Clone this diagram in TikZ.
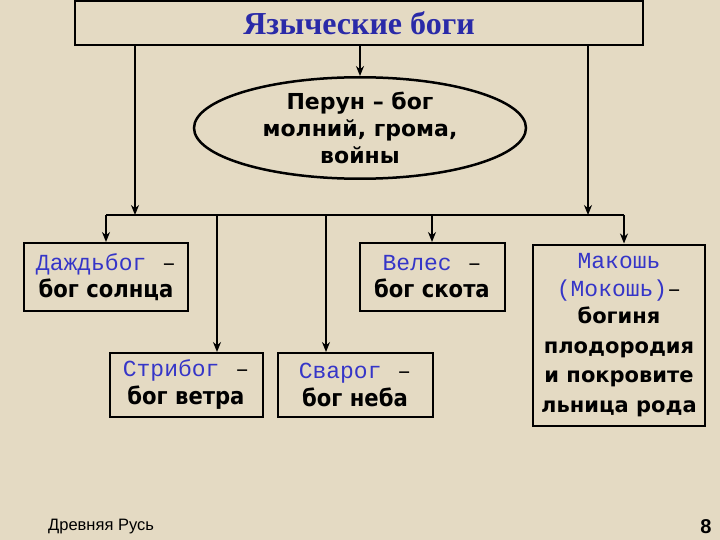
\documentclass[tikz,border=0pt]{standalone}
\usepackage{fontspec}
\setmainfont{Liberation Serif}
\newfontfamily\dvb{DejaVu Sans}
\newfontfamily\dvc{DejaVu Sans Condensed}
\newfontfamily\mono{Liberation Mono}
\newfontfamily\arial{Liberation Sans}
\usetikzlibrary{shapes.geometric,arrows.meta}
\definecolor{bg}{HTML}{E4DAC3}
\definecolor{godblue}{HTML}{3535C8}
\definecolor{titleblue}{HTML}{2A2AA8}
\newcommand{\gname}[1]{{\mono\fontsize{23}{30}\selectfont\textcolor{godblue}{#1}}}
\newcommand{\gdash}{{\mono\fontsize{23}{30}\selectfont\ \kern2pt–}}
\newcommand{\gdesc}[1]{{\dvc\bfseries\fontsize{23.5}{30}\selectfont #1}}
\newcommand{\mdesc}[1]{{\dvb\bfseries\fontsize{21}{29.5}\selectfont #1}}
\begin{document}
\begin{tikzpicture}[x=1pt,y=-1pt,
  ln/.style={line width=2.5pt,draw=black},
  arr/.style={ln,-{Stealth[length=10pt,width=8pt]}},
  godbox/.style={draw=black,line width=2pt,inner sep=0pt,align=center,font=\fontsize{23}{30}\selectfont}]
\fill[bg] (0,0) rectangle (720,540);
\useasboundingbox (0,0) rectangle (720,540);
% title
\node[draw=black,line width=2.5pt,minimum width=568pt,minimum height=44pt,inner sep=0pt,
  font=\bfseries\fontsize{32}{34}\selectfont,text=titleblue] (title) at (359,23) {Языческие боги};
% Perun
\node[draw=black,line width=2.5pt,ellipse,minimum width=332pt,minimum height=96pt,inner sep=0pt,
  align=center,font=\dvb\bfseries\fontsize{22}{27}\selectfont] (per) at (360,128)
  {Перун – бог\\молний, грома,\\войны};
% boxes
\node[godbox,minimum width=164pt,minimum height=68pt] (daz) at (106,277)
  {\raisebox{-3pt}{\gname{Даждьбог}\gdash}\\\gdesc{бог солнца}};
\node[godbox,minimum width=145pt,minimum height=68pt] (vel) at (432,277)
  {\raisebox{-3pt}{\gname{Велес}\gdash}\\\gdesc{бог скота}};
\node[godbox,minimum width=153pt,minimum height=64pt] (str) at (186,385)
  {\raisebox{-2pt}{\gname{Стрибог}\gdash}\\\gdesc{бог ветра}};
\node[godbox,minimum width=155pt,minimum height=64pt] (sva) at (355,385)
  {\raisebox{-2pt}{\gname{Сварог}\gdash}\\\gdesc{бог неба}};
\node[godbox,minimum width=172pt,minimum height=181pt,font=\fontsize{21}{29.5}\selectfont] (mak) at (619,335)
  {\raisebox{-4pt}{\gname{Макошь}}\\
   \raisebox{-2pt}{\gname{(Мокошь)}{\mono\fontsize{23}{30}\selectfont –}}\\
   \mdesc{богиня}\\
   \mdesc{плодородия}\\
   \mdesc{и покровите}\\
   \mdesc{льница рода}};
% coordinates
\coordinate (ta) at (135,215);
\coordinate (tb) at (588,215);
\coordinate (bl) at (106,215);
\coordinate (br) at (624,215);
\coordinate (bs) at (217,215);
\coordinate (bv) at (326,215);
\coordinate (be) at (432,215);
% connectors
\draw[arr] (title.south -| ta) -- (ta);
\draw[arr] (title.south -| tb) -- (tb);
\draw[arr] (title.south -| per.north) -- (per.north);
\draw[ln] (bl) -- (br);
\draw[arr] (bl) -- (daz.north);
\draw[arr] (bs) -- (bs |- str.north);
\draw[arr] (bv) -- (bv |- sva.north);
\draw[arr] (be) -- (vel.north);
\draw[arr] (br) -- (br |- mak.north);
% footer
\node[anchor=west,font=\arial\fontsize{16.5}{18}\selectfont,inner sep=0pt] (foot) at (48,527) {Древняя Русь};
\node[font=\arial\bfseries\fontsize{20}{22}\selectfont,inner sep=0pt] (pg) at (706,527) {8};
\end{tikzpicture}
\end{document}
